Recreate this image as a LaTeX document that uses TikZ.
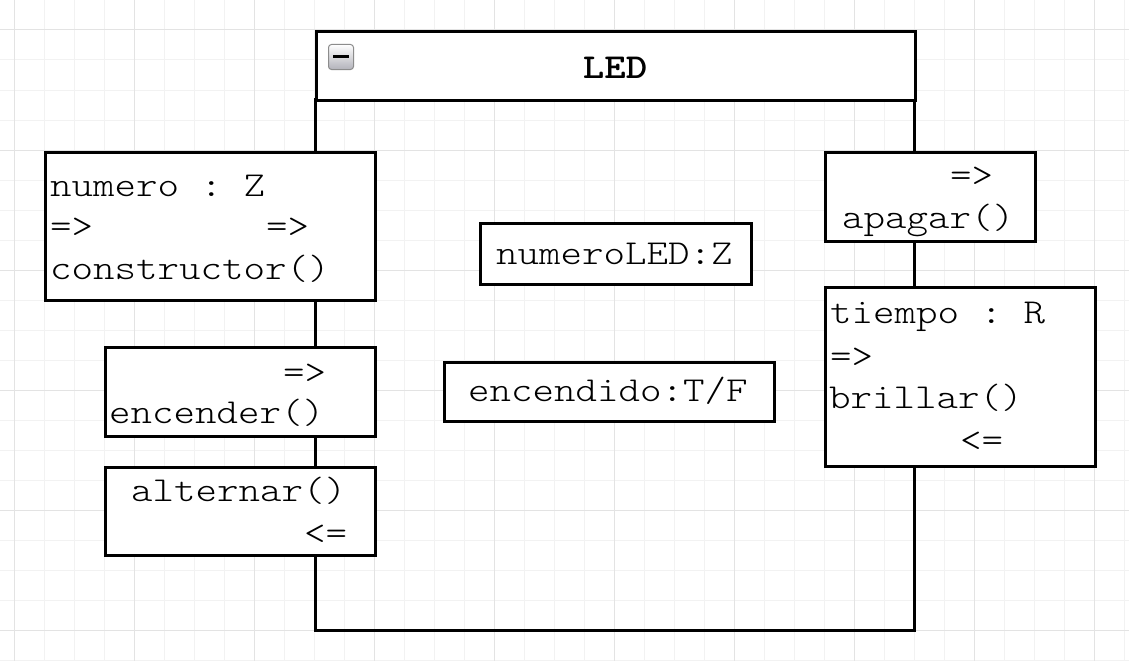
\documentclass[tikz,border=0pt]{standalone}
\usepackage{fontspec}
\usepackage{graphicx}
\usetikzlibrary{positioning}
\newcommand{\mono}[1]{\scalebox{1.17}[1]{#1}}

\begin{document}
\begin{tikzpicture}[x=1pt, y=-1pt,
    minorgrid/.style={black!5, line width=1pt},
    majorgrid/.style={black!11, line width=1pt},
    frame/.style={draw, line width=3pt},
    mbox/.style={draw, fill=white, line width=3pt, anchor=north west, inner sep=0pt},
    lbl/.style={anchor=base west, inner sep=0pt, font=\ttfamily\fontseries{l}\fontsize{35}{40}\selectfont\frenchspacing},
    icon/.style={draw=black!45, rounded corners=3pt, minimum size=25pt, inner sep=0pt,
        top color=white, bottom color=blue!10!black!30, line width=1pt}]
    \useasboundingbox (0,0) rectangle (1129,661);
    \fill[white] (0,0) rectangle (1129,661);

    % Background grid
    \foreach \gx in {14,44,...,1124} \draw[minorgrid] (\gx,0) -- (\gx,661);
    \foreach \gy in {0,30,...,660} \draw[minorgrid] (0,\gy) -- (1129,\gy);
    \foreach \gx in {14,134,...,1124} \draw[majorgrid] (\gx,0) -- (\gx,661);
    \foreach \gy in {30,150,...,660} \draw[majorgrid] (0,\gy) -- (1129,\gy);

    % Module frame with header
    \draw[frame] (315,99) rectangle (914,630);
    \node[mbox, minimum width=599pt, minimum height=69pt] (led) at (315,30) {};
    \node[anchor=base, inner sep=0pt, font=\ttfamily\bfseries\fontsize{35}{40}\selectfont] (ledname) at (615,78) {\mono{LED}};
    \node[icon] (collapse) at (341,57) {};
    \draw[line width=3pt] ([xshift=-8pt]collapse.center) -- ([xshift=8pt]collapse.center);

    % Left boxes
    \node[mbox, minimum width=330pt, minimum height=148pt] (ctor) at (44,151) {};
    \node[lbl] (ctorin) at (50,196) {\mono{numero : Z}};
    \node[lbl] (ctorarr) at (50,237) {\mono{=>}};
    \node[lbl] (ctorout) at (266,237) {\mono{=>}};
    \node[lbl] (ctorname) at (50,279) {\mono{constructor()}};

    \node[mbox, minimum width=270pt, minimum height=89pt] (enc) at (104,346) {};
    \node[lbl] (encarr) at (283,383) {\mono{=>}};
    \node[lbl] (encname) at (109,423) {\mono{encender()}};

    \node[mbox, minimum width=270pt, minimum height=88pt] (alt) at (104,466) {};
    \node[lbl] (altname) at (131,501) {\mono{alternar()}};
    \node[lbl] (altarr) at (304,544) {\mono{<=}};

    % State variables
    \node[mbox, minimum width=271pt, minimum height=61pt] (numled) at (479,222) {};
    \node[lbl] (numledtxt) at (496,264) {\mono{numeroLED:Z}};
    \node[mbox, minimum width=330pt, minimum height=59pt] (encst) at (443,361) {};
    \node[lbl] (encsttxt) at (468,401) {\mono{encendido:T/F}};

    % Right boxes
    \node[mbox, minimum width=210pt, minimum height=89pt] (apg) at (824,151) {};
    \node[lbl] (apgarr) at (950,186) {\mono{=>}};
    \node[lbl] (apgname) at (842,228) {\mono{apagar()}};

    \node[mbox, minimum width=270pt, minimum height=179pt] (bri) at (824,286) {};
    \node[lbl] (briin) at (830,323) {\mono{tiempo : R}};
    \node[lbl] (briarr) at (830,367) {\mono{=>}};
    \node[lbl] (briname) at (829,408) {\mono{brillar()}};
    \node[lbl] (bribk) at (960,451) {\mono{<=}};
\end{tikzpicture}
\end{document}
